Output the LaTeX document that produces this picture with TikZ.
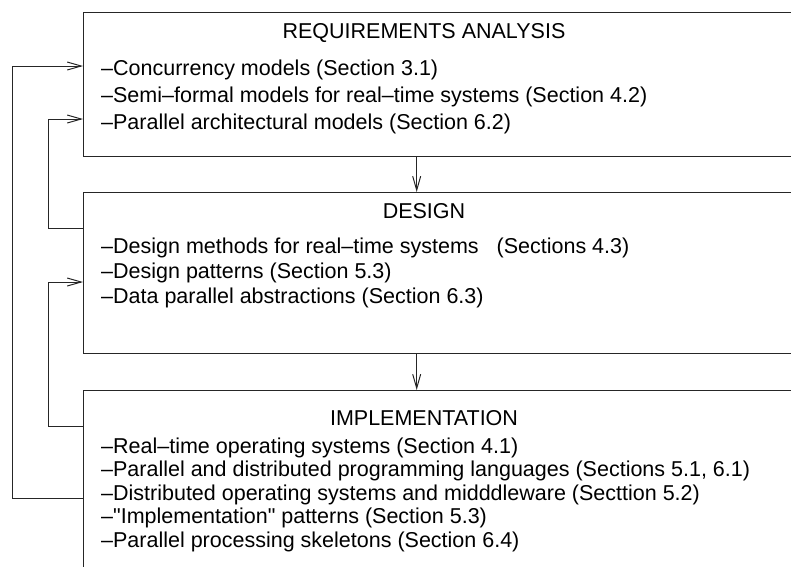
\documentclass[tikz,border=0pt]{standalone}
\usepackage{fontspec}
\setmainfont{Liberation Sans}
\newcommand\strq{\XeTeXglyph\XeTeXglyphindex "quotedbl"\relax}
\usetikzlibrary{arrows.meta}
\begin{document}
\begin{tikzpicture}[x=1pt,y=-1pt,
  box/.style={draw=black!85, line width=1pt, rectangle, anchor=north west, minimum width=760pt, inner sep=0pt},
  item/.style={anchor=base west, inner sep=0pt, font=\fontsize{21.5}{26}\selectfont},
  head/.style={anchor=base, inner sep=0pt, font=\fontsize{21.5}{26}\selectfont},
  conn/.style={draw=black!85, line width=1pt, -{Straight Barb[length=14pt,width=8pt]}}]
\useasboundingbox (0,0) rectangle (791,566);
\clip (0,0) rectangle (791,566);
% boxes
\node[box, minimum height=144pt] (req) at (83,12) {};
\node[box, minimum height=161pt] (des) at (83,192) {};
\node[box, minimum height=220pt] (imp) at (83,390) {};
% texts
\node[head] (h1) at (424,38) {REQUIREMENTS ANALYSIS};
\node[item] (r1) at (101,75) {–Concurrency models (Section 3.1)};
\node[item] (r2) at (101,102) {–Semi–formal models for real–time systems (Section 4.2)};
\node[item] (r3) at (101,129) {–Parallel architectural models (Section 6.2)};
\node[head] (h2) at (424,218) {DESIGN};
\node[item] (d1) at (101,253) {–Design methods for real–time systems\ \ \ (Sections 4.3)};
\node[item] (d2) at (101,278) {–Design patterns (Section 5.3)};
\node[item] (d3) at (101,303) {–Data parallel abstractions (Section 6.3)};
\node[head] (h3) at (424,425) {IMPLEMENTATION};
\node[item] (i1) at (101,453) {–Real–time operating systems (Section 4.1)};
\node[item] (i2) at (101,476.5) {–Parallel and distributed programming languages (Sections 5.1, 6.1)};
\node[item] (i3) at (101,500) {–Distributed operating systems and midddleware (Secttion 5.2)};
\node[item] (i4) at (101,523.5) {–\strq Implementation\strq{} patterns (Section 5.3)};
\node[item] (i5) at (101,547) {–Parallel processing skeletons (Section 6.4)};
% vertical flow
\coordinate (vx) at (416.7,0);
\draw[conn] (vx |- req.south) -- (vx |- des.north);
\draw[conn] (vx |- des.south) -- (vx |- imp.north);
% feedback loops
\coordinate (o1) at (12,498);
\coordinate (o2) at (12,66);
\draw[conn] (o1 -| imp.west) -- (o1) -- (o2) -- (o2 -| req.west);
\coordinate (a1) at (48,228);
\coordinate (a2) at (48,119);
\draw[conn] (a1 -| des.west) -- (a1) -- (a2) -- (a2 -| req.west);
\coordinate (b1) at (48,426);
\coordinate (b2) at (48,282);
\draw[conn] (b1 -| imp.west) -- (b1) -- (b2) -- (b2 -| des.west);
\end{tikzpicture}
\end{document}
